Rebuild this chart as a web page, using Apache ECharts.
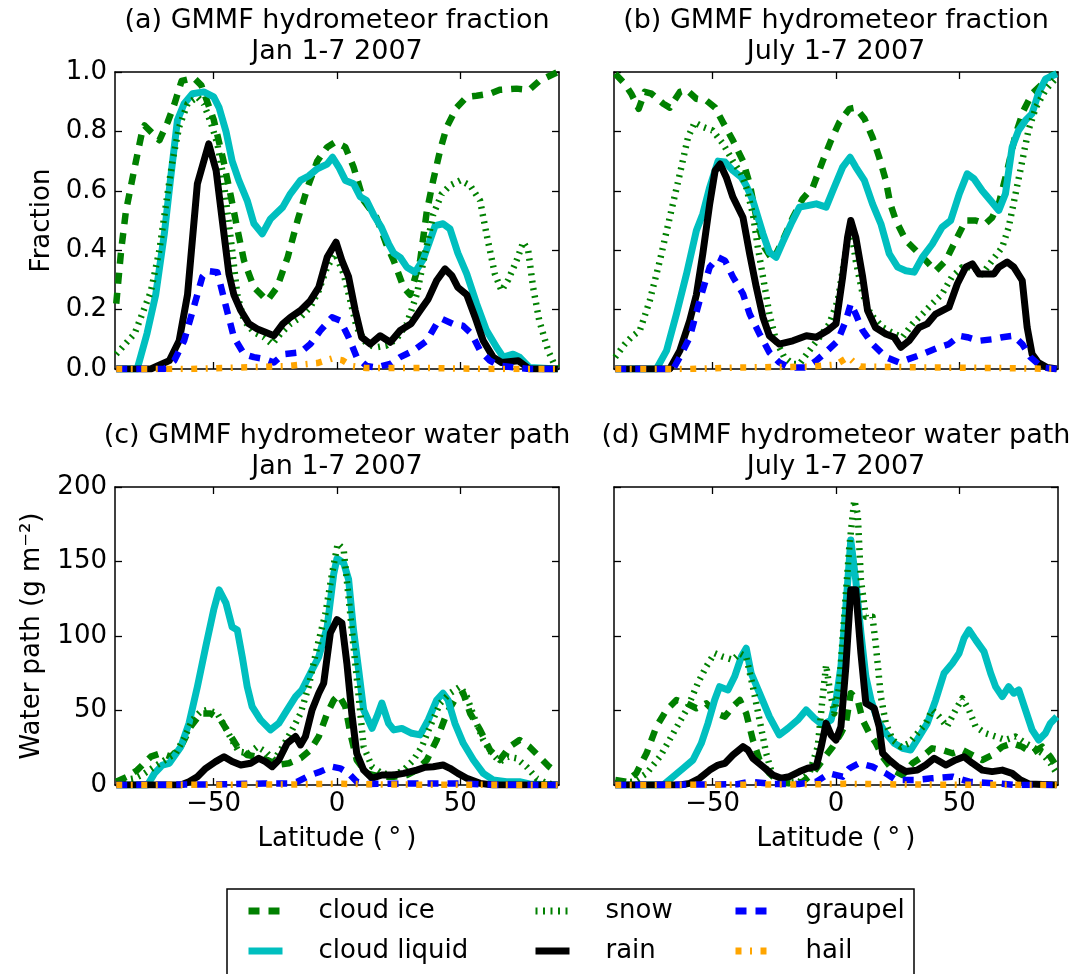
<!DOCTYPE html>
<html>
<head>
<meta charset="utf-8">
<script src="https://cdn.jsdelivr.net/npm/echarts@6/dist/echarts.min.js"></script>
<style>html,body{margin:0;padding:0;background:#fff;}#c{width:1089px;height:974px;}</style>
</head>
<body>
<div id="c"></div>
<script>
// ---------- DATA: [latitude, value] ----------
const seriesNames = ['cloud ice', 'cloud liquid', 'snow', 'rain', 'graupel', 'hail'];
const xTickValues = [-50, 0, 50];

// (a) fraction, Jan
const a_ice = [[-89.5,0.22],[-87.5,0.40],[-85.6,0.53],[-82,0.68],[-79,0.80],[-78,0.82],[-72,0.77],[-68.7,0.83],[-66,0.89],[-63,0.97],[-58,0.98],[-55,0.955],[-50,0.84],[-46,0.70],[-43,0.58],[-40,0.455],[-37.7,0.365],[-33.7,0.275],[-28.3,0.23],[-24.3,0.275],[-20,0.376],[-16,0.50],[-12,0.61],[-8,0.70],[-4,0.747],[-0.7,0.764],[3.4,0.747],[6.7,0.68],[10.8,0.567],[16,0.51],[20,0.42],[23,0.365],[27,0.275],[29.6,0.25],[33.7,0.365],[36.4,0.53],[39,0.635],[41.8,0.736],[44.5,0.815],[48.5,0.88],[52.6,0.916],[56.6,0.92],[62,0.927],[66,0.94],[72.8,0.944],[78,0.94],[82,0.97],[89.5,1.0]];
const a_liq = [[-89.5,0],[-81,0],[-77,0.12],[-73.5,0.25],[-70,0.455],[-67.4,0.646],[-64.7,0.837],[-62,0.893],[-58.6,0.927],[-54,0.933],[-50,0.916],[-47.8,0.88],[-45,0.80],[-42.5,0.70],[-39.8,0.635],[-36.4,0.567],[-33.7,0.49],[-30.3,0.455],[-27,0.505],[-22,0.545],[-18.9,0.59],[-14.8,0.635],[-11.5,0.65],[-8,0.674],[-4,0.69],[-1.8,0.713],[0.7,0.68],[3.4,0.635],[6.7,0.624],[9.4,0.58],[12,0.567],[14.8,0.52],[18,0.477],[21,0.42],[23,0.39],[25.6,0.376],[28.3,0.343],[31.7,0.326],[35,0.37],[37.7,0.433],[39.8,0.483],[43,0.489],[45.8,0.472],[49,0.39],[52.6,0.32],[56.6,0.22],[60.6,0.13],[64.7,0.073],[67.4,0.04],[71.4,0.05],[74,0.04],[78,0.005],[89.5,0]];
const a_snow = [[-89.5,0.05],[-82,0.12],[-75.5,0.26],[-72,0.40],[-68.7,0.59],[-66.7,0.70],[-64,0.815],[-60.6,0.893],[-56.6,0.916],[-54,0.893],[-51,0.826],[-48.5,0.758],[-46.5,0.668],[-44.5,0.534],[-42.5,0.40],[-40.4,0.25],[-37.7,0.163],[-33.7,0.124],[-29.6,0.107],[-26.3,0.084],[-23,0.118],[-18.9,0.152],[-14.8,0.174],[-10.8,0.208],[-7.4,0.264],[-4,0.343],[-0.7,0.388],[2.7,0.32],[5.4,0.23],[8,0.14],[12,0.084],[16,0.073],[20,0.079],[24,0.10],[28.3,0.152],[32.3,0.25],[35.7,0.388],[39,0.52],[42.5,0.59],[45.8,0.618],[50,0.635],[54,0.618],[58,0.567],[60.6,0.455],[64,0.32],[66.7,0.264],[69.4,0.30],[72.8,0.365],[75.5,0.427],[77.5,0.40],[79.5,0.275],[82,0.163],[85.6,0.062],[88,0.017],[89.5,0.005]];
const a_rain = [[-89.5,0],[-75.5,0],[-72.8,0.01],[-68,0.028],[-64,0.095],[-60.6,0.25],[-56.6,0.624],[-54,0.70],[-52,0.758],[-49,0.668],[-46.5,0.50],[-43.8,0.32],[-41.8,0.25],[-39,0.197],[-35.7,0.152],[-32.3,0.135],[-29,0.124],[-25.6,0.112],[-22,0.152],[-18.9,0.174],[-14.8,0.197],[-10.8,0.23],[-7.4,0.275],[-4,0.376],[-0.4,0.427],[2,0.365],[4.7,0.31],[7.4,0.197],[10,0.107],[13.5,0.084],[17.5,0.112],[21.6,0.09],[25.6,0.13],[30,0.152],[33.7,0.197],[37,0.236],[40.4,0.298],[43.8,0.337],[46.5,0.315],[49,0.275],[52.6,0.25],[56,0.174],[59.3,0.095],[63.3,0.04],[66.7,0.022],[73.5,0.028],[78,0],[89.5,0]];
const a_graupel = [[-89.5,0],[-70,0],[-66,0.028],[-62,0.095],[-58,0.21],[-54.6,0.31],[-52.6,0.33],[-48.5,0.326],[-45,0.21],[-41.8,0.107],[-37.7,0.05],[-33.7,0.04],[-29.6,0.034],[-25.6,0.022],[-21.6,0.05],[-14.8,0.056],[-10.8,0.084],[-6.7,0.13],[-2,0.174],[1.3,0.163],[4.7,0.107],[8,0.04],[12,0.01],[16,0.005],[21.6,0.017],[25.6,0.04],[31,0.062],[36.4,0.095],[40.4,0.152],[42.5,0.169],[47,0.152],[51,0.146],[54.6,0.118],[58,0.062],[62,0.028],[66,0.011],[72.8,0.005],[78,0],[89.5,0]];
const a_hail = [[-89.5,0],[-60,0],[-40,0.005],[-20,0.01],[-8,0.02],[-2,0.035],[2,0.03],[6,0.01],[12,0.003],[40,0.003],[60,0],[89.5,0]];

// (b) fraction, July
const b_ice = [[-89.5,0.994],[-85.6,0.96],[-83,0.927],[-80,0.876],[-77.5,0.933],[-74.8,0.927],[-70,0.893],[-67.4,0.88],[-63.3,0.933],[-60.6,0.94],[-56.6,0.91],[-52.6,0.904],[-49,0.88],[-45.8,0.83],[-41.8,0.77],[-37.7,0.70],[-35,0.624],[-32.3,0.51],[-29,0.41],[-25.6,0.365],[-21.6,0.433],[-17.5,0.51],[-13.5,0.573],[-9.4,0.612],[-5.4,0.70],[-2,0.77],[1.3,0.83],[5.4,0.876],[8,0.88],[11.5,0.843],[14.8,0.78],[17.5,0.713],[20.2,0.635],[22,0.556],[24.3,0.50],[28.3,0.433],[32.3,0.40],[36.4,0.365],[40.4,0.33],[44.5,0.365],[48.5,0.433],[52.6,0.50],[56.6,0.50],[60.6,0.489],[63.3,0.51],[66,0.556],[69.4,0.668],[72.8,0.79],[76,0.87],[79.5,0.927],[83.6,0.96],[87.6,0.99],[89.5,0.994]];
const b_liq = [[-89.5,0],[-72.8,0],[-68.7,0.062],[-64.7,0.185],[-60.6,0.32],[-56.6,0.466],[-54,0.522],[-51.2,0.612],[-47.8,0.70],[-45,0.697],[-41.8,0.668],[-38.4,0.646],[-36.4,0.618],[-33.7,0.567],[-29.6,0.455],[-27,0.393],[-24.3,0.376],[-21.6,0.427],[-18.2,0.489],[-14.8,0.545],[-11.5,0.55],[-8,0.556],[-4,0.545],[-1.3,0.60],[2.7,0.68],[5.7,0.713],[8,0.68],[11.5,0.635],[14.8,0.556],[18.2,0.489],[21.6,0.388],[25,0.343],[28.3,0.331],[31.7,0.326],[35,0.376],[39,0.42],[43,0.477],[46.5,0.50],[50,0.59],[53.2,0.657],[56,0.64],[59.3,0.60],[62.7,0.567],[66,0.534],[68.7,0.59],[71.4,0.747],[74,0.803],[76.8,0.837],[79.5,0.86],[82,0.927],[85,0.977],[89.5,0.994]];
const b_snow = [[-89.5,0.04],[-85.6,0.084],[-83,0.107],[-79.5,0.13],[-75.5,0.23],[-71.4,0.365],[-67.4,0.51],[-63.3,0.657],[-60,0.78],[-57.3,0.83],[-54,0.815],[-50,0.803],[-45.8,0.758],[-41.8,0.70],[-38.4,0.657],[-36.4,0.612],[-33.7,0.522],[-31.7,0.41],[-29.6,0.31],[-27,0.185],[-24.3,0.095],[-21,0.04],[-17.5,0.017],[-14.8,0.017],[-10.8,0.062],[-6.7,0.107],[-2.7,0.152],[0.7,0.23],[4.7,0.433],[6,0.477],[8,0.365],[10.8,0.253],[14,0.185],[18.9,0.14],[23.6,0.118],[27,0.107],[31,0.152],[35,0.185],[39,0.22],[43,0.253],[47,0.31],[51.2,0.343],[55.3,0.343],[59.3,0.32],[63.3,0.365],[67.4,0.41],[70,0.477],[72.8,0.59],[75.5,0.70],[78,0.803],[81,0.88],[85,0.94],[89.5,0.983]];
const b_rain = [[-89.5,0],[-67.4,0],[-63.3,0.062],[-59.3,0.163],[-56.6,0.25],[-54,0.388],[-51.2,0.556],[-49,0.668],[-47,0.69],[-44.5,0.646],[-41.8,0.579],[-37.7,0.51],[-35,0.388],[-32.3,0.275],[-29.6,0.174],[-27,0.112],[-23,0.084],[-17.5,0.095],[-12,0.112],[-8,0.107],[-3.4,0.13],[0,0.152],[2.7,0.31],[4.7,0.444],[6,0.50],[8,0.444],[10.8,0.31],[12.8,0.197],[16,0.14],[20.2,0.118],[23.6,0.107],[26.3,0.073],[29.6,0.095],[33.7,0.14],[37,0.152],[40.4,0.185],[45.8,0.208],[49.2,0.287],[52.6,0.343],[55.3,0.354],[58,0.32],[64,0.32],[66,0.343],[69.4,0.36],[72.1,0.343],[75.5,0.298],[77.5,0.14],[79.5,0.05],[82,0.022],[85.6,0.005],[89.5,0]];
const b_graupel = [[-89.5,0],[-66,0],[-63.3,0.04],[-59.3,0.107],[-55.3,0.23],[-51.2,0.343],[-47.8,0.376],[-45,0.365],[-41.8,0.31],[-37.7,0.253],[-35,0.185],[-31,0.118],[-27,0.056],[-23,0.022],[-18.9,0.005],[-12,0.005],[-8,0.028],[-3.4,0.062],[0.7,0.095],[4,0.163],[6,0.22],[8,0.185],[10.8,0.13],[14.8,0.084],[20.2,0.04],[25.6,0.022],[29.6,0.034],[35,0.05],[41.8,0.073],[45.8,0.084],[50,0.112],[53.2,0.107],[58,0.095],[63.3,0.10],[67.4,0.107],[72,0.112],[75.5,0.084],[78.8,0.04],[83.6,0.005],[89.5,0]];
const b_hail = [[-89.5,0],[-60,0],[-40,0.005],[-10,0.008],[0,0.015],[3,0.03],[5,0.04],[7,0.025],[10,0.008],[40,0.005],[70,0.003],[89.5,0]];

// (c) water path, Jan
const c_ice = [[-89.5,2.2],[-85,5.6],[-81,10],[-75.5,19],[-71.4,21.3],[-67.4,19],[-63.3,25.7],[-59.3,39.2],[-55.3,48],[-51.2,48],[-47.2,43.7],[-43.8,34.7],[-40.4,25.7],[-36.4,20.1],[-32.3,19],[-28.3,16.8],[-24.3,13.4],[-19.5,14.6],[-14.8,17.9],[-10.8,23.5],[-7.4,32.5],[-4,48],[-1.3,57],[0.7,60.4],[3.4,52.6],[5.4,34.7],[8,16.8],[12,7.8],[17.5,5.6],[23,5.6],[28.3,6.7],[32.3,10],[36.4,16.8],[40.4,30.2],[44.5,48],[48.5,59.3],[51.2,61.6],[54,48],[58,37],[62,23.5],[66,16.8],[70,25.7],[74,30.2],[78,25.7],[82,19],[86,12.3],[89.5,7.8]];
const c_liq = [[-89.5,0],[-76.8,0],[-74,7.8],[-70.8,13.4],[-68,14.6],[-63.3,25.7],[-60,41.4],[-56.6,66],[-53.2,93],[-50,117.5],[-47.8,131],[-45,122],[-42.5,106],[-40.4,104],[-38.4,86],[-36.4,66],[-34.4,52.6],[-31,43.7],[-27,37],[-23.6,41.4],[-20.2,50.4],[-16.8,59.3],[-14.2,63.8],[-10.8,75],[-7.4,86],[-4,106],[-1.3,142],[0,152],[2.7,149],[4.7,138],[6.7,104],[8.8,77],[10.8,50.4],[14.2,38],[16.2,46],[18.2,55],[20.9,41.4],[23,37],[26.3,38],[30.3,34.7],[33.7,33.6],[37,43.7],[40.4,57],[43,61.6],[45,57],[47.8,41.4],[51.2,28],[55.3,16.8],[59.3,7.8],[63.3,3.4],[68.7,2.2],[74,2.2],[78,0.7],[89.5,0]];
const c_snow = [[-89.5,2.2],[-82,4.5],[-78,7.8],[-74,12.3],[-68.7,17.9],[-65.4,21.3],[-62,31.3],[-58.6,43.7],[-55.3,49.2],[-52.6,50.4],[-48.5,48],[-45.8,40.3],[-43,31.3],[-39.8,22.4],[-35.7,21.3],[-32.3,25.7],[-29,22.4],[-25.6,16.8],[-22,25.7],[-18.2,37],[-14.8,48],[-11.5,66],[-8,93],[-4.7,115],[-2,142],[0.3,162],[2.7,158],[4.7,126],[6.7,93],[8.8,59.3],[10.8,25.7],[14.2,12.3],[18.2,7.8],[23,6.7],[27,10],[31,16.8],[34.4,25.7],[37.7,39.2],[41.8,54.8],[45.8,61.6],[49.9,66],[52.6,59.3],[56,43.7],[59.3,30.2],[62.7,21.3],[66,15.7],[69.4,19],[72.8,17.9],[76.8,12.3],[80.9,4.5],[85,1.1],[89.5,0]];
const c_rain = [[-89.5,0],[-63.3,0],[-60,2.2],[-56.6,5.6],[-53.2,11.2],[-49.2,15.7],[-45.8,19],[-42.5,15.7],[-39,13.4],[-35,14.6],[-31.7,17.9],[-29,15.7],[-26.3,12.3],[-23.6,16.8],[-20.2,28],[-16.8,32.5],[-14.8,26.9],[-12.8,32.5],[-10.1,50.4],[-7.4,61.6],[-5.4,68.3],[-2.7,102],[0,111],[2,108.6],[4,81.7],[6,48],[8,21.3],[10.8,10],[14.2,4.5],[18.2,6.7],[23,6.7],[27,7.8],[32.3,10],[35.7,11.9],[39,12.3],[43,13.4],[45.8,11.2],[49,7.8],[52.6,4.5],[58,1.1],[63.3,0],[89.5,0]];
const c_graupel = [[-89.5,0],[-45,0.5],[-30,1],[-20,1],[-16,2.2],[-10.8,6.7],[-6.7,9],[-2,12.3],[1.3,11.2],[4.7,7.8],[8,2.2],[12,0.7],[30,1],[50,1],[60,0.3],[89.5,0]];
const c_hail = [[-89.5,0],[-20,0.3],[0,0.8],[20,0.3],[89.5,0]];

// (d) water path, July
const d_ice = [[-89.5,3.4],[-85,2.2],[-81,7.8],[-76.8,21.3],[-72.8,39.2],[-68.7,50.4],[-64.7,57],[-60.6,54.8],[-56.6,51.5],[-52.6,54.8],[-48.5,48],[-45,45.9],[-41.8,52.6],[-39,57],[-36.4,48],[-33.7,30.2],[-31,16.8],[-27,7.8],[-23,2.2],[-17.5,0.7],[-13.5,2.2],[-9.4,7.8],[-5.4,16.8],[-1.3,25.7],[2,34.7],[4,41.4],[6,61.6],[8.8,57],[10.8,43.7],[13.5,34.7],[16.2,28],[18.9,19],[23,10],[27,6.7],[31,14.6],[35,19],[39,24.6],[43,23.5],[47.2,21.3],[51.2,23.5],[55.3,20.1],[59.3,16.8],[63.3,20.1],[67.4,25.7],[71.4,28],[75.5,25.7],[79.5,21.3],[83.6,25.7],[86.9,19],[89.5,12.3]];
const d_liq = [[-89.5,0],[-70,0],[-66,5.6],[-62,11.2],[-58,16.8],[-54.6,28],[-51.9,41.4],[-49.2,57],[-47.2,66],[-43.8,63.8],[-41.1,72.8],[-38.4,86],[-36.4,91.8],[-34.4,75],[-31,61.6],[-27,45.9],[-23,33.6],[-19.5,38],[-15.5,43.7],[-12.1,50.4],[-8.8,44.8],[-5.4,40.3],[-2,43.7],[0,57],[2,79.5],[4,119.8],[6,164.5],[8,137.7],[10.1,101.9],[12.1,72.8],[14.2,57],[16.8,43.7],[20.2,34.7],[23.6,28],[27,24.6],[30.3,23.5],[33.7,32.5],[37,41.4],[40.4,57],[43.8,75],[47.2,81.7],[49.9,88.4],[51.9,98.5],[53.9,104],[56.6,97.4],[60,89.5],[62.7,75],[64.7,66],[67.4,59.3],[70,66],[72.1,61.6],[74.1,63.8],[76.8,50.4],[79.5,37],[82.2,30.2],[84.9,34.7],[86.9,41.4],[89.5,45.9]];
const d_snow = [[-89.5,1.1],[-82,2.2],[-76.8,7.8],[-71.4,19],[-66,34.7],[-60.6,50.4],[-56,68.3],[-52.6,79.5],[-49.2,88.4],[-45.8,86],[-41.8,84],[-39,88.4],[-36.4,86],[-33.7,66],[-31,43.7],[-28.3,21.3],[-25.6,5.6],[-21.6,1.1],[-14.8,2.2],[-10.8,7.8],[-7.4,25.7],[-5.4,59.3],[-4,80.6],[-2.7,66],[-0.7,48],[1.3,66],[3.4,115],[5.4,160],[7.4,191],[8.8,182],[10.1,137.7],[12.1,113],[14.8,113],[16.2,93],[18.2,59.3],[20.2,41.4],[23,30.2],[26.3,25.7],[29.6,28],[33,34.7],[36.4,41.4],[39,50.4],[41.8,45.9],[45,39.2],[48.5,50.4],[51.2,58.2],[53.9,50.4],[56.6,39.2],[60.6,34.7],[64.7,32.5],[68.7,30.2],[72.8,32.5],[76.8,28],[79.5,25.7],[83.6,21.3],[86.9,14.6],[89.5,7.8]];
const d_rain = [[-89.5,0],[-63.3,0],[-59.3,1.1],[-55.3,4.5],[-51.2,10],[-47.8,13.4],[-45,14.6],[-41.8,20.1],[-37.7,25.7],[-35.7,23.5],[-33.7,17.9],[-29.6,12.3],[-25.6,6.7],[-22.2,4.5],[-18.9,5.6],[-14.8,9],[-11.5,11.2],[-8,12.3],[-6,25.7],[-4,41.4],[-2,33.6],[0,30.2],[2,39.2],[4,79.5],[6,131],[8,131],[10.1,88.4],[12.1,54.8],[15.5,51.5],[17.5,39.2],[18.9,21.3],[21.6,16.8],[24.9,12.3],[28.3,9],[33,10],[36.4,13.4],[39.8,17.9],[44.5,13.4],[48.5,16.8],[51.9,19],[55.3,14.6],[59.3,10],[63.3,9],[67.4,10],[71.4,7.8],[74.8,3.4],[78.2,0.7],[89.5,0]];
const d_graupel = [[-89.5,0],[-40,0.5],[-35,2.2],[-25.6,0.7],[-15,0.7],[-8,2.2],[-2.7,7.8],[2.7,5.6],[5.4,11.2],[9.4,14.6],[14.8,12.3],[20.2,7.8],[24.3,3.4],[32.3,3.4],[39,4.5],[47.2,5.6],[54,2.2],[64.7,1.1],[72.8,0],[89.5,0]];
const d_hail = [[-89.5,0],[-20,0.3],[5,0.8],[30,0.3],[89.5,0]];

// ---------- STYLE ----------
const styles = {
  'cloud ice':    { color: '#008000', width: 6.5, type: [11, 9] },
  'cloud liquid': { color: '#00BFBF', width: 7,   type: 'solid' },
  'snow':         { color: '#008000', width: 6.5, type: [2, 5.5] },
  'rain':         { color: '#000000', width: 7,   type: 'solid' },
  'graupel':      { color: '#0000FF', width: 6.5, type: [11, 9] },
  'hail':         { color: '#FFA500', width: 6.5, type: [6, 8.5, 2, 8.5] }
};
const panels = [
  [a_ice, a_liq, a_snow, a_rain, a_graupel, a_hail],
  [b_ice, b_liq, b_snow, b_rain, b_graupel, b_hail],
  [c_ice, c_liq, c_snow, c_rain, c_graupel, c_hail],
  [d_ice, d_liq, d_snow, d_rain, d_graupel, d_hail]
];
const FONT = 'DejaVu Sans';
const grids = [
  { left: 115, top: 72, width: 444, height: 297 },
  { left: 614, top: 72, width: 444, height: 297 },
  { left: 115, top: 487, width: 444, height: 298 },
  { left: 614, top: 487, width: 444, height: 298 }
];
const axisLineStyle = { color: '#000', width: 1.5 };
const tickStyle = { color: '#000', width: 1.3 };

const xAxes = [], yAxes = [];
for (let g = 0; g < 4; g++) {
  const bottomRow = g >= 2;
  xAxes.push({
    type: 'value', gridIndex: g, min: -90, max: 90, position: 'bottom',
    axisLine: { onZero: false, lineStyle: axisLineStyle },
    axisTick: { inside: true, length: 7, customValues: xTickValues, lineStyle: tickStyle },
    axisLabel: { show: bottomRow, customValues: xTickValues, fontSize: 26, fontFamily: FONT, color: '#000', margin: 6,
      formatter: v => String(v).replace('-', '\u2212') },
    splitLine: { show: false },
    name: bottomRow ? 'Latitude (\u2009\u00b0\u2009)' : '',
    nameLocation: 'middle', nameGap: 41,
    nameTextStyle: { fontSize: 26, fontFamily: FONT, color: '#000' }
  });
}
for (let g = 0; g < 4; g++) {
  xAxes.push({
    type: 'value', gridIndex: g, min: -90, max: 90, position: 'top',
    axisLine: { onZero: false, lineStyle: axisLineStyle },
    axisTick: { inside: true, length: 7, customValues: xTickValues, lineStyle: tickStyle },
    axisLabel: { show: false }, splitLine: { show: false }
  });
}
for (let g = 0; g < 4; g++) {
  const frac = g < 2;
  const leftCol = g % 2 === 0;
  yAxes.push({
    type: 'value', gridIndex: g, min: 0, max: frac ? 1 : 200, interval: frac ? 0.2 : 50, position: 'left',
    axisLine: { onZero: false, lineStyle: axisLineStyle },
    axisTick: { inside: true, length: 7, lineStyle: tickStyle },
    axisLabel: { show: leftCol, fontSize: 26, fontFamily: FONT, color: '#000', margin: 8,
      formatter: v => frac ? v.toFixed(1) : String(v) },
    splitLine: { show: false },
    name: leftCol ? (frac ? 'Fraction' : 'Water path (g m\u207b\u00b2)') : '',
    nameLocation: 'middle', nameRotate: 90, nameGap: frac ? 60 : 70,
    nameTextStyle: { fontSize: 26, fontFamily: FONT, color: '#000' }
  });
}
for (let g = 0; g < 4; g++) {
  const frac = g < 2;
  yAxes.push({
    type: 'value', gridIndex: g, min: 0, max: frac ? 1 : 200, interval: frac ? 0.2 : 50, position: 'right',
    axisLine: { onZero: false, lineStyle: axisLineStyle },
    axisTick: { inside: true, length: 7, lineStyle: tickStyle },
    axisLabel: { show: false }, splitLine: { show: false }
  });
}

const series = [];
panels.forEach((arrs, g) => {
  arrs.forEach((data, i) => {
    const nm = seriesNames[i];
    const st = styles[nm];
    series.push({
      name: nm, type: 'line', xAxisIndex: g, yAxisIndex: g,
      data: data, showSymbol: false, symbol: 'none', animation: false, silent: true,
      color: st.color,
      lineStyle: { color: st.color, width: st.width, type: st.type, cap: 'butt', join: 'round' }
    });
  });
});

const legendCommon = {
  orient: 'vertical', top: 898, padding: 0, itemWidth: 34, itemHeight: 14, itemGap: 14,
  selectedMode: false,
  textStyle: { fontSize: 26, fontFamily: FONT, color: '#000', lineHeight: 26, padding: [0, 0, 0, 31] },
  lineStyle: { width: 7 },
  itemStyle: { opacity: 0 }
};
const legends = [
  Object.assign({ left: 245, data: ['cloud ice', 'cloud liquid'] }, legendCommon),
  Object.assign({ left: 532, data: ['snow', 'rain'] }, legendCommon),
  Object.assign({ left: 732, data: ['graupel', 'hail'] }, legendCommon)
];

const titleStyle = { fontSize: 27, fontFamily: FONT, fontWeight: 'normal', color: '#000', lineHeight: 31 };
const titles = [
  { text: '(a) GMMF hydrometeor fraction\nJan 1-7 2007', left: 337, top: 5 },
  { text: '(b) GMMF hydrometeor fraction\nJuly 1-7 2007', left: 836, top: 5 },
  { text: '(c) GMMF hydrometeor water path\nJan 1-7 2007', left: 337, top: 420 },
  { text: '(d) GMMF hydrometeor water path\nJuly 1-7 2007', left: 836, top: 420 }
].map(t => Object.assign(t, { textAlign: 'center', padding: 0, textStyle: titleStyle }));

const chart = echarts.init(document.getElementById('c'), null, { renderer: 'canvas' });
chart.setOption({
  backgroundColor: '#fff',
  animation: false,
  textStyle: { fontFamily: FONT },
  title: titles,
  grid: grids,
  xAxis: xAxes,
  yAxis: yAxes,
  legend: legends,
  series: series,
  graphic: [{
    type: 'rect', silent: true,
    shape: { x: 227, y: 889, width: 687, height: 120 },
    style: { fill: 'none', stroke: '#000', lineWidth: 1.5 }
  }]
});
</script>
</body>
</html>
